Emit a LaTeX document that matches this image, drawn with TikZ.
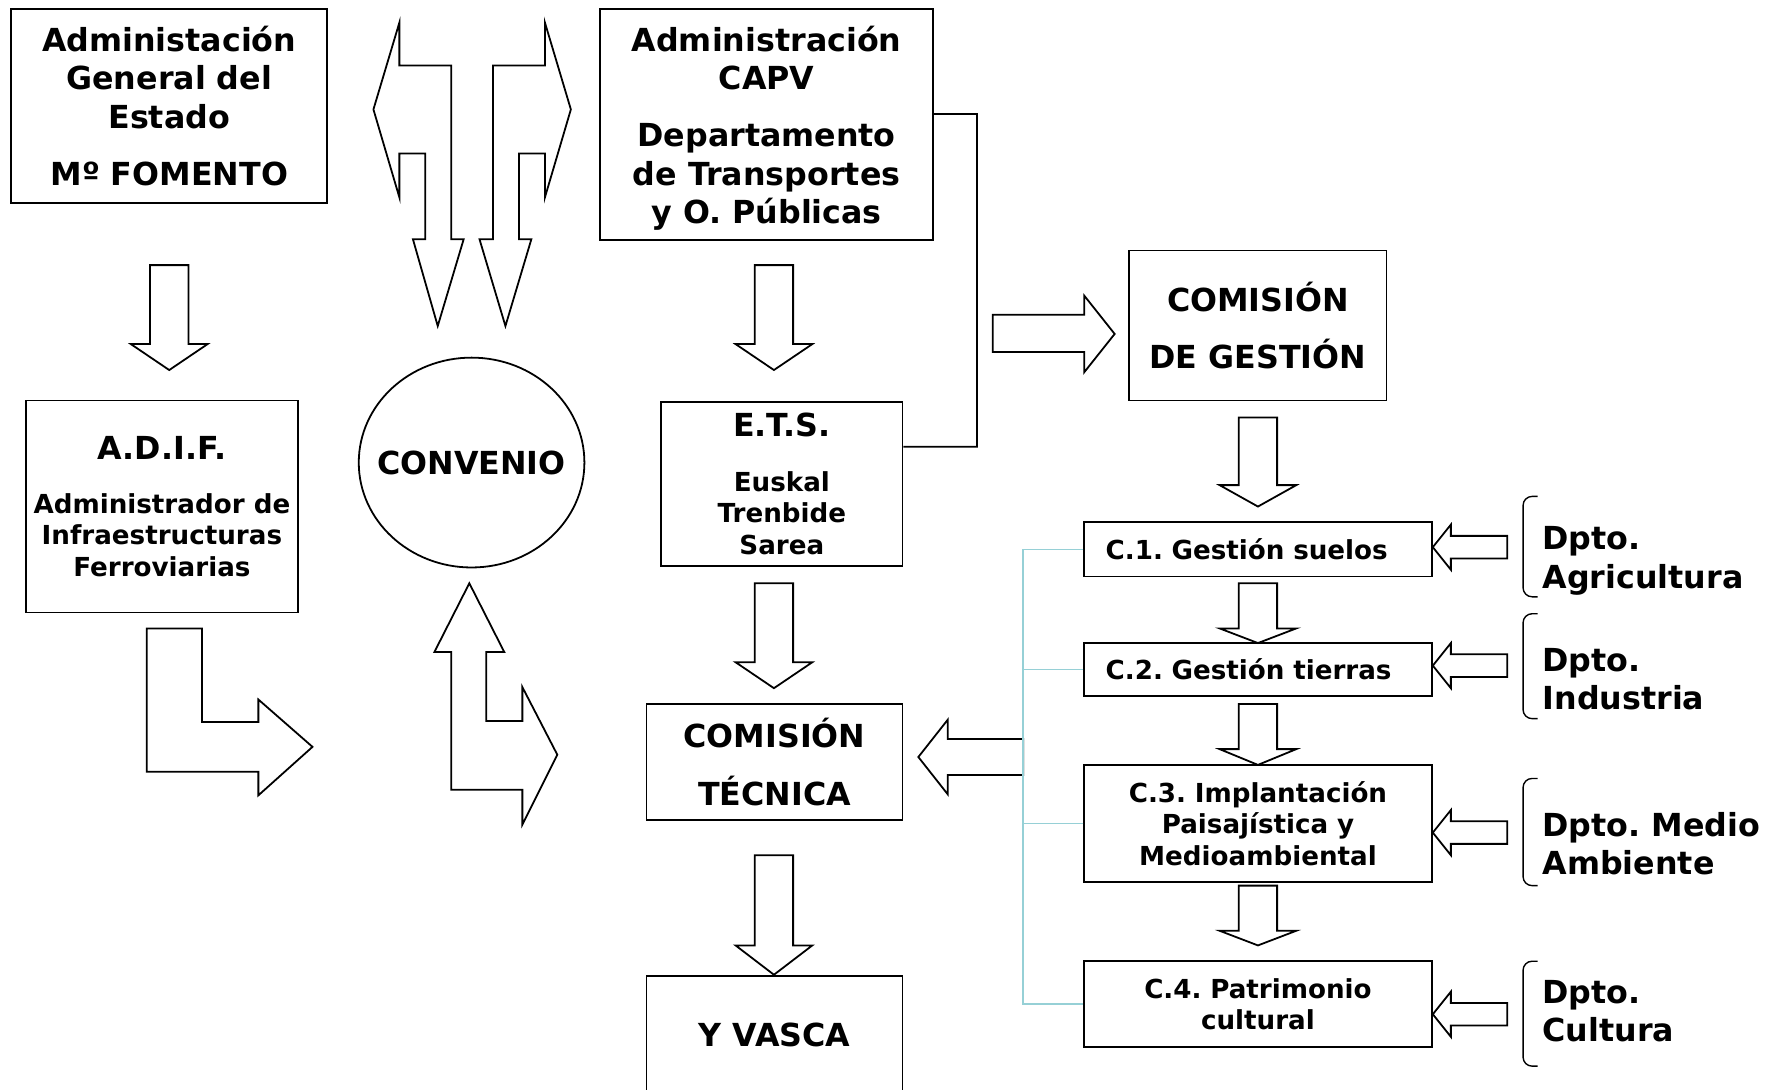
\documentclass[tikz,border=0pt]{standalone}
\usepackage{fontspec}
\setmainfont{DejaVu Sans}
\usetikzlibrary{shapes.geometric}

\frenchspacing
\newcommand{\bigtxt}{\fontsize{16}{19.35}\selectfont\bfseries}
\newcommand{\midtxt}{\fontsize{13.2}{15.9}\selectfont\bfseries}
\definecolor{linkcyan}{RGB}{150,208,214}

\tikzset{
	box/.style={draw, fill=white, line width=0.9pt, inner sep=0pt, align=center},
	cbox/.style={box, font=\midtxt, inner xsep=19*0.2mm, text width=270*0.2mm},
	blockarrow/.style={draw, fill=white, line width=0.9pt, line join=miter},
	link/.style={draw=linkcyan, line width=0.9pt},
	brace/.style={draw, line width=0.7pt, rounded corners=1.6mm},
	dpto/.style={anchor=west, inner sep=0pt, align=left, font=\bigtxt}
}

\begin{document}
\begin{tikzpicture}[x=0.2mm, y=-0.2mm]
	\useasboundingbox (0,0) rectangle (1568,966);
	\clip (0,0) rectangle (1568,966);

	\node [box, font=\bigtxt, minimum width=280*0.2mm, minimum height=172*0.2mm] (age) at (150,94)
		{Administación\\General del\\Estado\\[9.7pt]Mº FOMENTO};
	\node [box, font=\bigtxt, text depth=0pt, minimum width=295*0.2mm, minimum height=205*0.2mm] (capv) at (679.5,110.5)
		{Administración\\CAPV\\[9.7pt]Departamento\\de Transportes\\y O. Públicas};
	\node [box, font=\midtxt, minimum width=241*0.2mm, minimum height=188*0.2mm] (adif) at (143.5,449)
		{{\bigtxt A.D.I.F.}\\[11.4pt]Administrador de\\Infraestructuras\\Ferroviarias};
	\node [inner sep=0pt, font=\bigtxt] (conv) at (418,410) {CONVENIO};
	\draw [line width=0.9pt] (conv.center) ellipse [x radius=20mm, y radius=18.6mm];
	\node [box, font=\midtxt, minimum width=214*0.2mm, minimum height=146*0.2mm] (ets) at (693,429)
		{{\bigtxt E.T.S.}\\[11.4pt]Euskal\\Trenbide\\Sarea};
	\node [box, font=\bigtxt, minimum width=227*0.2mm, minimum height=103*0.2mm] (ct) at (686.5,675.5)
		{COMISIÓN\\[9.7pt]TÉCNICA};
	\node [box, font=\bigtxt, minimum width=227*0.2mm, minimum height=104*0.2mm] (yv) at (686.5,917) {Y VASCA};
	\node [box, font=\bigtxt, minimum width=228*0.2mm, minimum height=133*0.2mm] (cg) at (1115,288.5)
		{COMISIÓN\\[9.7pt]DE GESTIÓN};

	\node [cbox, align=left, minimum height=48*0.2mm] (c1) at (1115,487) {C.1. Gestión suelos};
	\node [cbox, align=left, minimum height=47*0.2mm] (c2) at (1115,593.5) {C.2. Gestión tierras};
	\node [cbox, minimum height=104*0.2mm] (c3) at (1115,730) {C.3. Implantación\\Paisajística y\\Medioambiental};
	\node [cbox, minimum height=76*0.2mm] (c4) at (1115,890) {C.4. Patrimonio\\cultural};

	\node [dpto] (agri) at (1367,497) {Dpto.\\Agricultura};
	\node [dpto] (indu) at (1367,602) {Dpto.\\Industria};
	\node [dpto] (medio) at (1367,748) {Dpto. Medio\\Ambiente};
	\node [dpto] (cult) at (1367,896) {Dpto.\\Cultura};

	\foreach \t/\b in {440/529, 544/637, 690/785, 852/945}
		\draw [brace] (1363,\t) -- (1350,\t) -- (1350,\b) -- (1363,\b);

	\foreach \y in {485, 590, 738, 899}
		\draw [blockarrow] (1336,\y-10) -- (1286,\y-10) -- (1286,\y-20) -- (1270,\y)
			-- (1286,\y+20) -- (1286,\y+10) -- (1336,\y+10) -- cycle;

	\foreach \cx/\t/\n/\p in {150/235/305/328, 686/235/305/328, 686/517/587/610, 686/758/838/864,
			1115/370/430/449, 1115/517/557/570, 1115/624/664/678, 1115/785/825/838}
		\draw [blockarrow] (\cx-17,\t) -- (\cx+17,\t) -- (\cx+17,\n) -- (\cx+34,\n)
			-- (\cx,\p) -- (\cx-34,\n) -- (\cx-17,\n) -- cycle;

	\draw [blockarrow] (331,97) -- (354,20) -- (354,58) -- (400,58) -- (400,212) -- (411,212) -- (388,289)
		-- (366,212) -- (377,212) -- (377,136) -- (354,136) -- (354,175) -- cycle;
	\draw [blockarrow] (506,97) -- (483,20) -- (483,58) -- (437,58) -- (437,212) -- (425,212) -- (448,289)
		-- (471,212) -- (460,212) -- (460,136) -- (483,136) -- (483,175) -- cycle;
	\draw [blockarrow] (130,557) -- (179,557) -- (179,640) -- (229,640) -- (229,620) -- (277,662)
		-- (229,705) -- (229,684) -- (130,684) -- cycle;
	\draw [blockarrow] (400,700) -- (400,578) -- (385,578) -- (416,517) -- (447,578) -- (431,578)
		-- (431,639) -- (463,639) -- (463,609) -- (494,669) -- (463,731) -- (463,700) -- cycle;
	\draw [blockarrow] (880,279) -- (961,279) -- (961,262) -- (988,296) -- (961,330) -- (961,312) -- (880,312) -- cycle;
	\draw [blockarrow] (907,655) -- (840,655) -- (840,638) -- (814,671) -- (840,704) -- (840,687) -- (907,687) -- cycle;

	\draw [line width=0.9pt] ([yshift=1.9mm]capv.east) -| (866,396) -- ([yshift=6.6mm]ets.east);

	\coordinate (trunk) at (907,0);
	\draw [link] (c1.west) -- (c1.west -| trunk) -- (c4.west -| trunk) -- (c4.west);
	\draw [link] (c2.west) -- (c2.west -| trunk);
	\draw [link] (c3.west) -- (c3.west -| trunk);
\end{tikzpicture}
\end{document}
